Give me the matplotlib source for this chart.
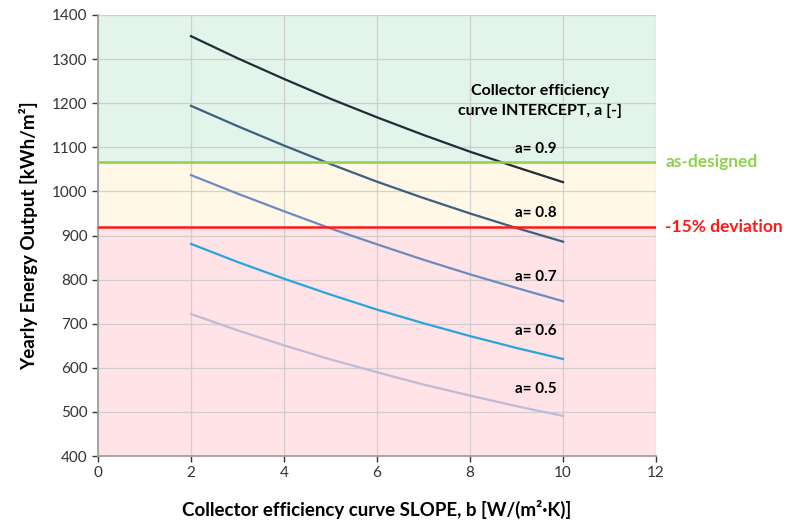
import matplotlib.pyplot as plt

slope = [2, 3, 4, 5, 6, 7, 8, 9, 10]
out_09 = [1352, 1302, 1255, 1210, 1168, 1128, 1090, 1055, 1021]
out_08 = [1194, 1148, 1104, 1062, 1022, 985, 950, 917, 886]
out_07 = [1037, 995, 955, 916, 880, 845, 812, 781, 751]
out_06 = [881, 840, 802, 766, 732, 701, 672, 645, 620]
out_05 = [722, 685, 651, 619, 590, 562, 537, 513, 491]
series_labels = ["a= 0.9", "a= 0.8", "a= 0.7", "a= 0.6", "a= 0.5"]
label_y = [1096, 952, 807, 684, 553]

as_designed = 1066
deviation = 919

plt.rcParams['font.family'] = ['Lato', 'DejaVu Sans']

fig = plt.figure(figsize=(7.86, 5.30), dpi=100)
ax = fig.add_axes([0.1247, 0.1396, 0.7099, 0.8321])

# background bands
ax.axhspan(as_designed, 1400, color="#e3f4ea", zorder=0)
ax.axhspan(deviation, as_designed, color="#fff8e6", zorder=0)
ax.axhspan(400, deviation, color="#ffe3e6", zorder=0)

ax.grid(True, color="#c8c8c8", linewidth=0.9, alpha=0.8, zorder=1)
ax.set_axisbelow(True)

colors = ["#1e2d38", "#3d5f82", "#6b8cc2", "#2aa5dc", "#bdbbd6"]
for ys, c in zip([out_09, out_08, out_07, out_06, out_05], colors):
    ax.plot(slope, ys, color=c, linewidth=1.6, zorder=3)

ax.axhline(as_designed, color="#8fd14f", linewidth=1.8, zorder=4)
ax.axhline(deviation, color="#ff1a1a", linewidth=1.8, zorder=4)

for lab, y in zip(series_labels, label_y):
    ax.text(9.87, y, lab, ha="right", va="center", fontsize=11,
            fontweight="bold", color="black", zorder=5)

ax.text(9.5, 1205, "Collector efficiency\ncurve INTERCEPT, a [-]", ha="center",
        va="center", fontsize=11.5, fontweight="bold", linespacing=1.5, zorder=5)

ax.text(12.2, as_designed, "as-designed", ha="left", va="center", fontsize=12.5,
        fontweight="bold", color="#8fd14f", clip_on=False)
ax.text(12.2, deviation, "-15% deviation", ha="left", va="center", fontsize=12.5,
        fontweight="bold", color="#ff1a1a", clip_on=False)

ax.set_xlim(0, 12)
ax.set_ylim(400, 1400)
ax.set_xticks(range(0, 13, 2))
ax.set_yticks(range(400, 1401, 100))
ax.tick_params(labelsize=11, colors="#333333", length=4, width=1)
for side in ["top", "right"]:
    ax.spines[side].set_visible(False)
for side in ["left", "bottom"]:
    ax.spines[side].set_color("#a0a0a0")
    ax.spines[side].set_linewidth(1.3)

ax.set_xlabel("Collector efficiency curve SLOPE, b [W/(m²·K)]", fontsize=13.5,
              fontweight="bold", labelpad=14)
ax.set_ylabel("Yearly Energy Output [kWh/m²]", fontsize=13.5,
              fontweight="bold", labelpad=10)

fig.savefig("out.png", dpi=100)
